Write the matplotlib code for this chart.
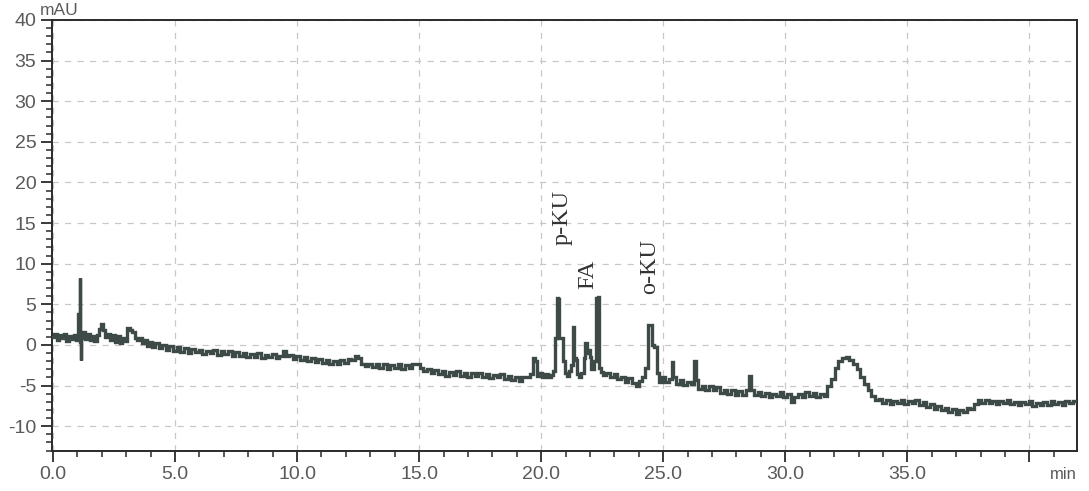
import matplotlib
matplotlib.use("Agg")
import matplotlib.pyplot as plt
from matplotlib.ticker import MultipleLocator

# retention time (min) and detector signal (mAU)
time_min = [
    0.0, 0.1, 0.2, 0.3, 0.4, 0.5, 0.6, 0.7, 0.8, 0.9, 1.0, 1.05, 1.08, 1.1, 1.12, 1.15, 1.18,
    1.25, 1.35, 1.45, 1.55, 1.65, 1.75, 1.85, 1.95, 2.02, 2.1, 2.2, 2.3, 2.4, 2.5, 2.6, 2.7,
    2.8, 2.9, 3.0, 3.08, 3.2, 3.3, 3.4, 3.5, 3.6, 3.7, 3.8, 3.9, 4.0, 4.1, 4.25, 4.4, 4.55,
    4.7, 4.85, 5.0, 5.15, 5.3, 5.45, 5.6, 5.75, 5.9, 6.05, 6.2, 6.35, 6.5, 6.65, 6.8, 6.95,
    7.1, 7.25, 7.4, 7.55, 7.7, 7.85, 8.0, 8.15, 8.3, 8.45, 8.6, 8.75, 8.9, 9.05, 9.2, 9.35,
    9.5, 9.6, 9.75, 9.9, 10.05, 10.2, 10.35, 10.5, 10.65, 10.8, 10.95, 11.1, 11.25, 11.4,
    11.55, 11.7, 11.85, 12.0, 12.15, 12.3, 12.45, 12.55, 12.7, 12.85, 13.0, 13.15, 13.3,
    13.45, 13.6, 13.75, 13.9, 14.05, 14.2, 14.35, 14.5, 14.65, 14.8, 14.95, 15.1, 15.25,
    15.4, 15.55, 15.7, 15.85, 16.0, 16.15, 16.3, 16.45, 16.6, 16.75, 16.9, 17.05, 17.2,
    17.35, 17.5, 17.65, 17.8, 17.95, 18.1, 18.25, 18.4, 18.55, 18.7, 18.85, 19.0, 19.15,
    19.3, 19.45, 19.6, 19.7, 19.78, 19.85, 20.0, 20.1, 20.2, 20.35, 20.45, 20.55, 20.62,
    20.66, 20.72, 20.76, 20.85, 20.92, 21.0, 21.1, 21.2, 21.28, 21.33, 21.38, 21.45, 21.5,
    21.6, 21.7, 21.78, 21.85, 21.9, 21.96, 22.02, 22.1, 22.2, 22.28, 22.35, 22.42, 22.5,
    22.6, 22.75, 22.9, 23.05, 23.2, 23.35, 23.5, 23.65, 23.8, 23.95, 24.05, 24.2, 24.3,
    24.42, 24.5, 24.58, 24.68, 24.78, 24.9, 25.0, 25.15, 25.3, 25.38, 25.45, 25.6, 25.75,
    25.9, 26.05, 26.2, 26.3, 26.38, 26.5, 26.65, 26.8, 26.95, 27.1, 27.25, 27.4, 27.55,
    27.7, 27.85, 28.0, 28.15, 28.3, 28.45, 28.55, 28.65, 28.8, 28.95, 29.1, 29.25, 29.4,
    29.55, 29.7, 29.85, 30.0, 30.15, 30.3, 30.45, 30.6, 30.75, 30.9, 31.05, 31.2, 31.35,
    31.5, 31.65, 31.8, 31.95, 32.1, 32.25, 32.4, 32.55, 32.7, 32.85, 33.0, 33.15, 33.3,
    33.45, 33.6, 33.75, 33.9, 34.05, 34.2, 34.35, 34.5, 34.65, 34.8, 34.95, 35.1, 35.25,
    35.4, 35.55, 35.7, 35.85, 36.0, 36.15, 36.3, 36.45, 36.6, 36.75, 36.9, 37.05, 37.2,
    37.35, 37.5, 37.65, 37.8, 37.95, 38.1, 38.25, 38.4, 38.55, 38.7, 38.85, 39.0, 39.15,
    39.3, 39.45, 39.6, 39.75, 39.9, 40.05, 40.2, 40.35, 40.5, 40.65, 40.8, 40.95, 41.1,
    41.25, 41.4, 41.55, 41.7, 41.85,
]
signal_mau = [
    1.0, 1.4, 0.6, 1.2, 0.8, 1.3, 0.5, 1.1, 0.7, 1.2, 0.6, 3.8, 0.9, 8.2, 0.4, -1.9, 0.8,
    1.6, 0.7, 1.3, 0.6, 1.1, 0.5, 1.2, 2.0, 2.6, 1.9, 1.0, 1.4, 0.6, 1.2, 0.4, 1.1,
    0.3, 0.8, 0.5, 2.1, 1.9, 1.6, 0.9, 0.6, 0.9, 0.2, 0.6, -0.1, 0.4, -0.2, 0.2, -0.4, 0.0,
    -0.6, -0.1, -0.7, -0.2, -0.9, -0.4, -1.0, -0.5, -0.9, -0.6, -1.1, -0.7, -1.0, -0.6, -1.2, -0.8,
    -1.1, -0.7, -1.3, -0.9, -1.4, -1.0, -1.5, -1.1, -1.5, -1.0, -1.6, -1.2, -1.5, -1.1, -1.6, -1.3,
    -0.7, -1.4, -1.2, -1.7, -1.3, -1.8, -1.5, -2.0, -1.6, -2.1, -1.7, -2.2, -1.9, -2.3,
    -2.0, -2.4, -1.9, -2.2, -1.7, -1.9, -1.4, -1.6, -2.3, -2.6, -2.3, -2.7, -2.4,
    -2.8, -2.4, -2.9, -2.5, -2.8, -2.4, -2.9, -2.5, -2.8, -2.3, -2.4, -2.8, -3.2,
    -3.0, -3.5, -3.1, -3.6, -3.2, -3.8, -3.3, -3.7, -3.2, -3.8, -3.4, -3.9, -3.5,
    -3.8, -3.4, -4.0, -3.6, -4.1, -3.7, -4.0, -3.6, -4.2, -3.8, -4.3, -4.0, -4.4,
    -4.0, -3.9, -3.6, -1.6, -2.0, -3.8, -3.5, -4.0, -3.6, -4.0, -3.7, -3.2, 0.9,
    5.8, 5.7, 0.9, 0.8, -2.0, -3.4, -3.8, -3.2, -2.5, 2.2, -1.6, -1.8, -3.6,
    -3.9, -3.4, -1.6, 0.2, -1.0, -0.6, -1.5, -3.0, -2.0, 5.8, 5.9, -2.8, -3.3,
    -3.7, -3.4, -4.0, -3.6, -4.2, -3.9, -4.5, -4.1, -4.7, -5.0, -4.4, -4.0, -2.8,
    2.5, 2.4, 0.0, -0.2, -3.5, -4.5, -4.0, -4.6, -4.2, -2.1, -4.0, -4.8, -4.3,
    -4.9, -4.5, -4.8, -2.0, -4.3, -5.4, -5.0, -5.5, -5.1, -5.6, -5.2, -5.9, -5.5,
    -6.0, -5.6, -6.2, -5.7, -6.1, -5.6, -3.8, -5.5, -6.2, -5.8, -6.3, -5.9, -6.4,
    -6.0, -6.3, -5.8, -6.4, -6.0, -7.0, -6.4, -6.0, -6.4, -5.8, -6.3, -5.9, -6.4,
    -6.0, -6.3, -5.0, -4.2, -2.8, -2.0, -1.6, -1.5, -1.9, -2.4, -3.0, -4.0, -4.8,
    -5.5, -6.3, -6.8, -6.6, -7.1, -6.8, -7.3, -6.9, -7.2, -6.8, -7.3, -6.9, -7.2,
    -6.8, -7.4, -7.0, -7.6, -7.3, -7.9, -7.5, -8.0, -7.7, -8.3, -7.9, -8.5, -8.0,
    -8.2, -7.7, -7.9, -7.3, -6.8, -7.1, -6.8, -7.2, -6.9, -7.3, -6.9, -7.2, -6.8,
    -7.3, -7.0, -7.4, -7.0, -7.3, -6.9, -7.5, -7.1, -7.4, -7.0, -7.4, -6.9, -7.3,
    -7.0, -7.4, -6.9, -7.2, -6.9,
]

# peak labels: (text, retention time, y centre)
peak_names = ["p-KU", "FA", "o-KU"]
peak_x = [20.86, 21.9, 24.43]
peak_y = [15.7, 8.75, 9.65]

x_ticks = [0, 5, 10, 15, 20, 25, 30, 35, 40]
x_labels = ["0.0", "5.0", "10.0", "15.0", "20.0", "25.0", "30.0", "35.0", ""]
y_ticks = [-10, -5, 0, 5, 10, 15, 20, 25, 30, 35, 40]
y_labels = ["-10", "-5", "0", "5", "10", "15", "20", "25", "30", "35", "40"]

fig = plt.figure(figsize=(10.89, 4.91), dpi=100)
ax = fig.add_axes([51.7 / 1089, 1 - 451 / 491, (1077 - 51.7) / 1089, (451 - 20) / 491])

ax.plot(time_min, signal_mau, color="#3d4a47", lw=2.4, drawstyle="steps-mid",
        solid_joinstyle="miter", zorder=3)

ax.set_xlim(-0.05, 41.95)
ax.set_ylim(-13.05, 40)

ax.set_xticks(x_ticks)
ax.set_xticklabels(x_labels)
ax.set_yticks(y_ticks)
ax.set_yticklabels(y_labels)
ax.xaxis.set_minor_locator(MultipleLocator(1))
ax.yaxis.set_minor_locator(MultipleLocator(1))

ax.grid(True, which="major", color="#c8c8c8", lw=0.9, ls=(0, (5, 5)))
ax.set_axisbelow(True)

for sp in ax.spines.values():
    sp.set_color("#2a2a2a")
    sp.set_linewidth(1.4)

ax.tick_params(which="major", length=8, width=1.3, color="#2a2a2a",
               labelsize=14, labelcolor="#5a5a5a", pad=3)
ax.tick_params(which="minor", length=4.5, width=1.1, color="#2a2a2a")
for lab in ax.get_xticklabels() + ax.get_yticklabels():
    lab.set_family("Liberation Sans")

ax.text(-0.55, 40.3, "mAU", fontsize=12.5, color="#5a5a5a", family="Liberation Sans",
        ha="left", va="bottom")
ax.text(41.95, -15.9, "min", fontsize=12, color="#5a5a5a", family="Liberation Sans",
        ha="right", va="center", clip_on=False)

for name, px, py in zip(peak_names, peak_x, peak_y):
    ax.text(px, py, name, rotation=90, fontsize=17.5, family="Liberation Serif",
            color="#333333", ha="center", va="center")

fig.savefig("out.png", dpi=100)
